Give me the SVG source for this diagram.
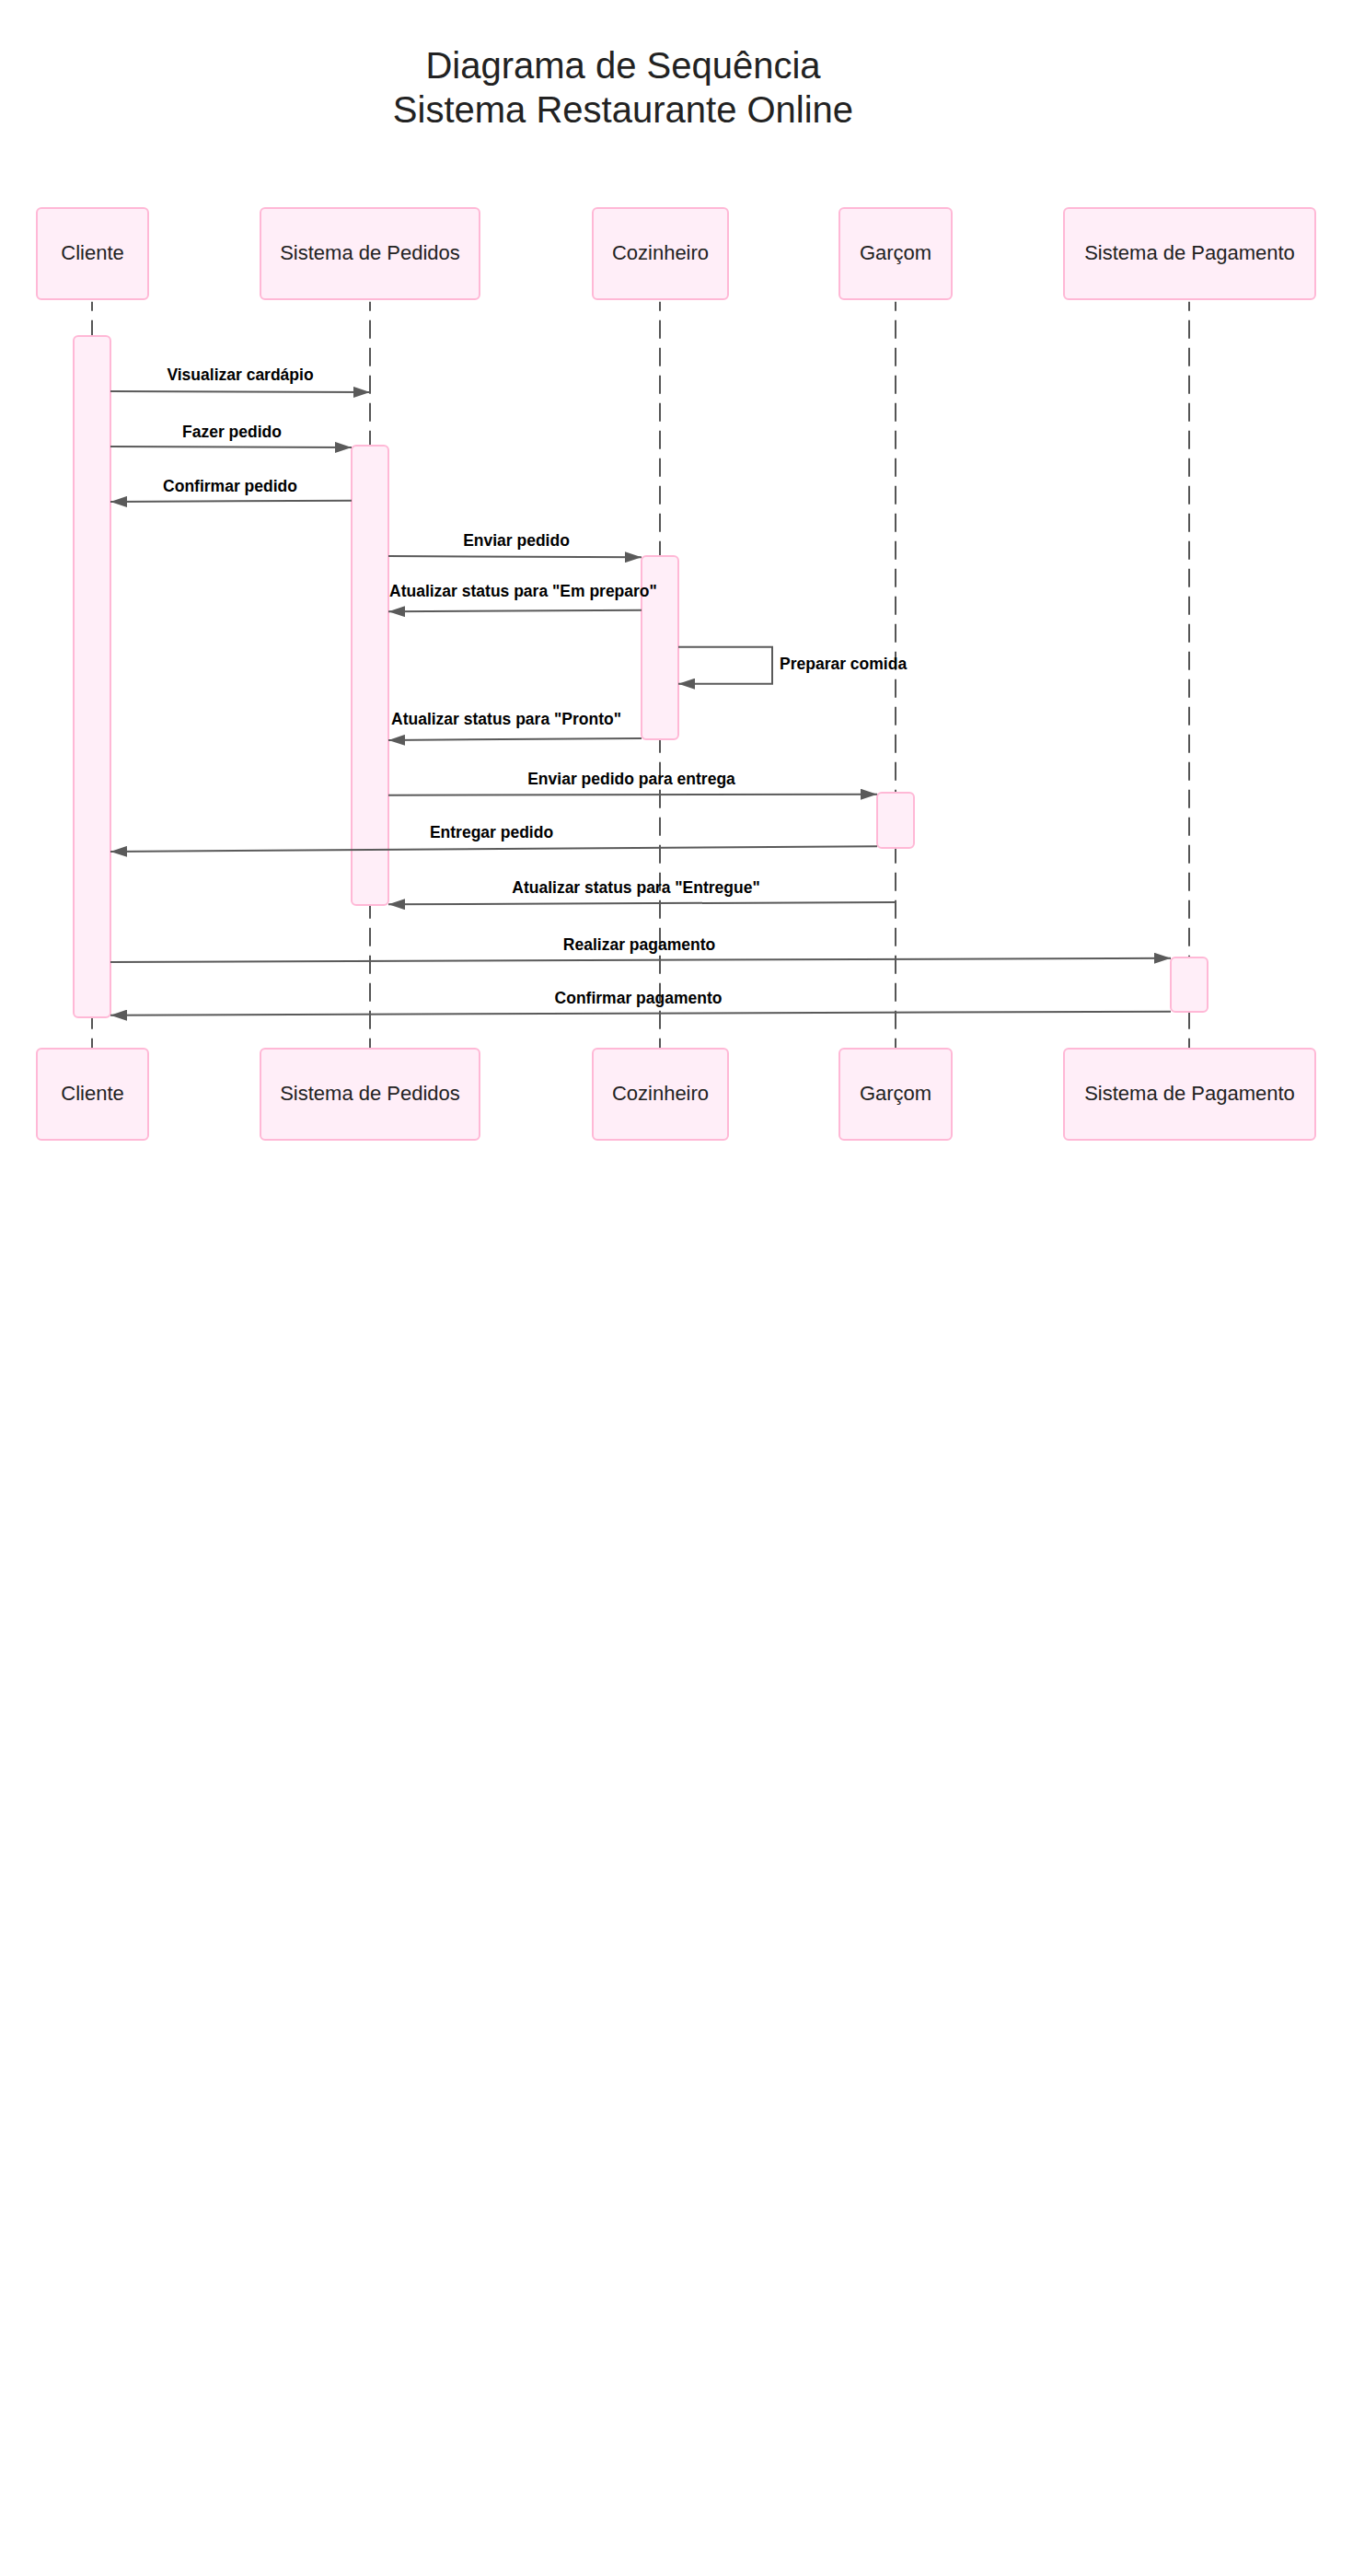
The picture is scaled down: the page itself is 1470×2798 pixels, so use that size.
<svg xmlns="http://www.w3.org/2000/svg" width="1470" height="2798" viewBox="0 0 1470 2798">
  <style>
    .box { fill: #ffeef8; stroke: #ffb8d6; stroke-width: 2; }
    .act { fill: #ffeef8; stroke: #ffb8d6; stroke-width: 2; }
    .name { font-family: "Liberation Sans", Arial, sans-serif; font-size: 22px; fill: #222; text-anchor: middle; }
    .title { font-family: "Liberation Sans", Arial, sans-serif; font-size: 40px; fill: #222; text-anchor: middle; }
    .life { stroke: #555; stroke-width: 2; stroke-dasharray: 20 10; stroke-dashoffset: 10; fill: none; }
    .msg { stroke: #5a5a5a; stroke-width: 2; fill: none; marker-end: url(#head); }
    .lbl { font-family: "Liberation Sans", Arial, sans-serif; font-size: 17.5px; font-weight: bold; fill: #000; text-anchor: middle; }
    .lbl.start { text-anchor: start; }
  </style>
  <defs>
    <marker id="head" markerUnits="userSpaceOnUse" markerWidth="18" markerHeight="12" refX="18" refY="6" orient="auto">
      <path d="M0,0 L18,6 L0,12 Z" fill="#5a5a5a"/>
    </marker>
  </defs>

  <rect width="1470" height="2798" fill="#ffffff"/>

  <!-- title -->
  <text class="title" x="677" y="85">Diagrama de Sequência</text>
  <text class="title" x="677" y="133">Sistema Restaurante Online</text>

  <!-- lifelines -->
  <g id="lifelines">
    <line class="life" x1="100" y1="327.7" x2="100" y2="1139"/>
    <line class="life" x1="402" y1="327.7" x2="402" y2="1139"/>
    <line class="life" x1="717" y1="327.7" x2="717" y2="1139"/>
    <line class="life" x1="973" y1="327.7" x2="973" y2="1139"/>
    <line class="life" x1="1292" y1="327.7" x2="1292" y2="1139"/>
  </g>

  <!-- participants: header and footer boxes -->
  <g id="cliente">
    <rect class="box" x="40" y="226" width="121" height="99" rx="5"/>
    <text class="name" x="100.5" y="282">Cliente</text>
    <rect class="box" x="40" y="1139" width="121" height="99" rx="5"/>
    <text class="name" x="100.5" y="1195">Cliente</text>
  </g>
  <g id="sistema-pedidos">
    <rect class="box" x="283" y="226" width="238" height="99" rx="5"/>
    <text class="name" x="402" y="282">Sistema de Pedidos</text>
    <rect class="box" x="283" y="1139" width="238" height="99" rx="5"/>
    <text class="name" x="402" y="1195">Sistema de Pedidos</text>
  </g>
  <g id="cozinheiro">
    <rect class="box" x="644" y="226" width="147" height="99" rx="5"/>
    <text class="name" x="717.5" y="282">Cozinheiro</text>
    <rect class="box" x="644" y="1139" width="147" height="99" rx="5"/>
    <text class="name" x="717.5" y="1195">Cozinheiro</text>
  </g>
  <g id="garcom">
    <rect class="box" x="912" y="226" width="122" height="99" rx="5"/>
    <text class="name" x="973" y="282">Garçom</text>
    <rect class="box" x="912" y="1139" width="122" height="99" rx="5"/>
    <text class="name" x="973" y="1195">Garçom</text>
  </g>
  <g id="sistema-pagamento">
    <rect class="box" x="1156" y="226" width="273" height="99" rx="5"/>
    <text class="name" x="1292.5" y="282">Sistema de Pagamento</text>
    <rect class="box" x="1156" y="1139" width="273" height="99" rx="5"/>
    <text class="name" x="1292.5" y="1195">Sistema de Pagamento</text>
  </g>

  <!-- activation bars -->
  <g id="activations">
    <rect class="act" x="80" y="365" width="40" height="740" rx="5"/>
    <rect class="act" x="382" y="484" width="40" height="499" rx="5"/>
    <rect class="act" x="697" y="604" width="40" height="199" rx="5"/>
    <rect class="act" x="953" y="861" width="40" height="60" rx="5"/>
    <rect class="act" x="1272" y="1040" width="40" height="59" rx="5"/>
  </g>

  <!-- messages -->
  <g id="connectors">
    <line class="msg" x1="120" y1="425" x2="402" y2="426"/>
    <text class="lbl" x="261" y="413">Visualizar cardápio</text>

    <line class="msg" x1="120" y1="485" x2="382" y2="486"/>
    <text class="lbl" x="252" y="475">Fazer pedido</text>

    <line class="msg" x1="382" y1="543.7" x2="120" y2="545"/>
    <text class="lbl" x="250" y="534">Confirmar pedido</text>

    <line class="msg" x1="422" y1="604" x2="697" y2="605.3"/>
    <text class="lbl" x="561" y="593">Enviar pedido</text>

    <line class="msg" x1="697" y1="662.7" x2="422" y2="664.3"/>
    <text class="lbl start" x="423" y="648">Atualizar status para "Em preparo"</text>

    <path class="msg" d="M737,702.7 H839 V742.7 H737"/>
    <text class="lbl start" x="847" y="727">Preparar comida</text>

    <line class="msg" x1="697" y1="802" x2="422" y2="804"/>
    <text class="lbl start" x="425" y="787">Atualizar status para "Pronto"</text>

    <line class="msg" x1="422" y1="863.7" x2="953" y2="862.7"/>
    <text class="lbl" x="686" y="852">Enviar pedido para entrega</text>

    <line class="msg" x1="953" y1="919.3" x2="120" y2="925"/>
    <text class="lbl" x="534" y="910">Entregar pedido</text>

    <line class="msg" x1="973" y1="980" x2="422" y2="982.3"/>
    <text class="lbl" x="691" y="970">Atualizar status para "Entregue"</text>

    <line class="msg" x1="120" y1="1045" x2="1272" y2="1040.7"/>
    <text class="lbl" x="694.5" y="1032">Realizar pagamento</text>

    <line class="msg" x1="1272" y1="1098.7" x2="120" y2="1102.7"/>
    <text class="lbl" x="693.5" y="1090">Confirmar pagamento</text>
  </g>
</svg>
